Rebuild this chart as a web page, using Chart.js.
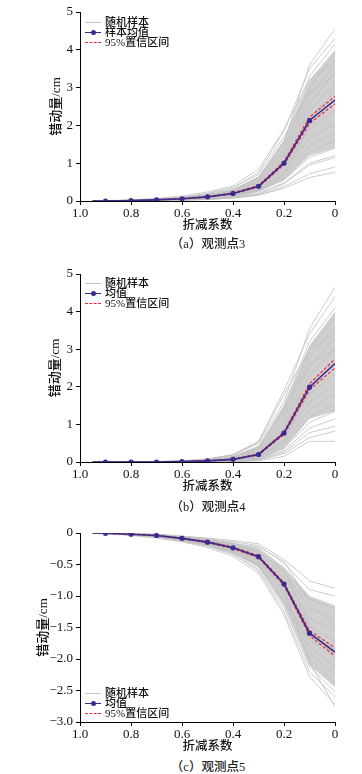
<!DOCTYPE html>
<html>
<head>
<meta charset="utf-8">
<script src="https://cdn.jsdelivr.net/npm/chart.js@4"></script>
<style>
  body { margin: 0; background: #fff; width: 362px; height: 774px; position: relative; overflow: hidden; }
  .box { position: absolute; left: 0; width: 362px; }
  .cap { position: absolute; left: 0; width: 416px; text-align: center; font: 500 12.5px 'Liberation Serif', 'Noto Sans CJK SC', serif; color: #222; line-height: 14px; }
  .lg { position: absolute; left: 84px; font: 500 11px 'Liberation Serif', 'Noto Sans CJK SC', serif; color: #111; }
  .lg div { height: 10px; line-height: 10px; white-space: nowrap; position: relative; padding-left: 21px; }
  .lg i { position: absolute; left: 1px; top: 5px; width: 16px; height: 0; }
  .lg i.g { border-top: 1px solid #c4c4c4; }
  .lg i.m { border-top: 1.5px solid #3b2a8f; }
  .lg i.m:after { content: ''; position: absolute; left: 6px; top: -3.5px; width: 5px; height: 5px; border-radius: 50%; background: #3b2a8f; }
  .lg i.r { border-top: 1px dashed #ee2a33; }
</style>
</head>
<body>
<div class="box" style="top:0"><canvas id="c1" width="362" height="235"></canvas></div>
<div class="box" style="top:250px"><canvas id="c2" width="362" height="246"></canvas></div>
<div class="box" style="top:500px"><canvas id="c3" width="362" height="256"></canvas></div>

<div class="lg" style="top:17px">
  <div><i class="g"></i>随机样本</div>
  <div><i class="m"></i>样本均值</div>
  <div><i class="r"></i>95%置信区间</div>
</div>
<div class="lg" style="top:278px">
  <div><i class="g"></i>随机样本</div>
  <div><i class="m"></i>均值</div>
  <div><i class="r"></i>95%置信区间</div>
</div>
<div class="lg" style="top:688px">
  <div><i class="g"></i>随机样本</div>
  <div><i class="m"></i>均值</div>
  <div><i class="r"></i>95%置信区间</div>
</div>

<div class="cap" style="top:237px">（a）观测点3</div>
<div class="cap" style="top:500px">（b）观测点4</div>
<div class="cap" style="top:760px">（c）观测点5</div>

<script>
// 折减系数
const xs = [0.95, 0.9, 0.8, 0.7, 0.6, 0.5, 0.4, 0.3, 0.2, 0.1, 0];

// 观测点3
const mean3 = [0, 0, 0.01, 0.03, 0.06, 0.11, 0.2, 0.39, 1.0, 2.13, 2.67];
const ciUp3 = [0, 0, 0.012, 0.035, 0.066, 0.12, 0.215, 0.41, 1.04, 2.22, 2.77];
const ciLo3 = [0, 0, 0.008, 0.026, 0.054, 0.1, 0.188, 0.37, 0.96, 2.05, 2.57];
const coreHi3 = [0, 0, 0.02, 0.05, 0.1, 0.18, 0.32, 0.65, 1.6, 3.2, 4.0];
const coreLo3 = [0, 0, 0.005, 0.02, 0.04, 0.07, 0.12, 0.25, 0.55, 1.2, 1.4];
const samples3 = [
  [0, 0, 0.01, 0.04, 0.08, 0.15, 0.28, 0.6, 1.55, 3.6, 4.55],
  [0, 0, 0.02, 0.05, 0.1, 0.2, 0.35, 0.75, 1.85, 3.5, 4.3],
  [0, 0, 0.01, 0.04, 0.09, 0.17, 0.3, 0.62, 1.6, 3.3, 4.15],
  [0, 0, 0.01, 0.04, 0.08, 0.14, 0.26, 0.55, 1.4, 3.0, 3.9],
  [0, 0, 0.01, 0.03, 0.07, 0.13, 0.24, 0.5, 1.3, 2.8, 3.6],
  [0, 0, 0.01, 0.03, 0.06, 0.12, 0.22, 0.45, 1.2, 2.6, 3.4],
  [0, 0, 0.01, 0.03, 0.06, 0.11, 0.21, 0.42, 1.1, 2.4, 3.1],
  [0, 0, 0.01, 0.03, 0.06, 0.11, 0.2, 0.4, 1.0, 2.2, 2.9],
  [0, 0, 0.01, 0.02, 0.05, 0.1, 0.18, 0.36, 0.9, 1.9, 2.4],
  [0, 0, 0.01, 0.02, 0.05, 0.09, 0.16, 0.33, 0.8, 1.65, 2.05],
  [0, 0, 0.01, 0.02, 0.04, 0.08, 0.15, 0.3, 0.72, 1.45, 1.8],
  [0, 0, 0.01, 0.02, 0.04, 0.07, 0.13, 0.27, 0.63, 1.3, 1.6],
  [0, 0, 0, 0.02, 0.03, 0.06, 0.12, 0.24, 0.56, 1.15, 1.4],
  [0, 0, 0, 0.01, 0.03, 0.05, 0.1, 0.2, 0.48, 1.0, 1.2],
  [0, 0, 0, 0.01, 0.03, 0.05, 0.1, 0.18, 0.45, 0.95, 1.15],
  [0, 0, 0, 0.01, 0.02, 0.04, 0.08, 0.16, 0.38, 0.72, 0.9],
  [0, 0, 0, 0.01, 0.02, 0.04, 0.08, 0.15, 0.34, 0.62, 0.76],
  [0, 0.01, 0.03, 0.07, 0.13, 0.24, 0.4, 0.84, 1.9, 3.2, 3.7],
  [0, 0, 0.01, 0.05, 0.1, 0.2, 0.36, 0.7, 1.7, 2.9, 3.3],
  [0, 0, 0.01, 0.02, 0.05, 0.09, 0.15, 0.28, 0.7, 2.0, 2.7]
];

// 观测点4
const mean4 = [0, 0, 0, 0, 0.01, 0.03, 0.07, 0.2, 0.77, 1.99, 2.62];
const ciUp4 = [0, 0, 0, 0, 0.012, 0.034, 0.076, 0.215, 0.8, 2.08, 2.74];
const ciLo4 = [0, 0, 0, 0, 0.008, 0.026, 0.064, 0.185, 0.73, 1.92, 2.5];
const coreHi4 = [0, 0, 0, 0.005, 0.02, 0.05, 0.14, 0.4, 1.5, 3.1, 4.0];
const coreLo4 = [0, 0, 0, 0, 0, 0.01, 0.02, 0.07, 0.35, 1.15, 1.35];
const samples4 = [
  [0, 0, 0, 0.01, 0.03, 0.07, 0.18, 0.5, 1.6, 3.55, 4.65],
  [0, 0, 0, 0.01, 0.03, 0.08, 0.2, 0.55, 1.9, 3.4, 4.4],
  [0, 0, 0, 0.01, 0.02, 0.06, 0.15, 0.42, 1.5, 3.2, 4.1],
  [0, 0, 0, 0.01, 0.02, 0.05, 0.13, 0.36, 1.3, 3.0, 3.85],
  [0, 0, 0, 0, 0.02, 0.05, 0.12, 0.32, 1.15, 2.8, 3.6],
  [0, 0, 0, 0, 0.02, 0.04, 0.1, 0.28, 1.0, 2.55, 3.3],
  [0, 0, 0, 0, 0.01, 0.04, 0.09, 0.25, 0.9, 2.3, 3.0],
  [0, 0, 0, 0, 0.01, 0.03, 0.08, 0.22, 0.8, 2.1, 2.75],
  [0, 0, 0, 0, 0.01, 0.03, 0.06, 0.18, 0.7, 1.8, 2.35],
  [0, 0, 0, 0, 0.01, 0.02, 0.05, 0.15, 0.6, 1.6, 2.05],
  [0, 0, 0, 0, 0.01, 0.02, 0.04, 0.13, 0.5, 1.4, 1.8],
  [0, 0, 0, 0, 0, 0.01, 0.03, 0.1, 0.42, 1.2, 1.55],
  [0, 0, 0, 0, 0, 0.01, 0.03, 0.08, 0.36, 1.05, 1.35],
  [0, 0, 0, 0, 0, 0.01, 0.02, 0.07, 0.3, 0.9, 1.15],
  [0, 0, 0, 0, 0, 0.01, 0.02, 0.06, 0.26, 0.78, 0.95],
  [0, 0, 0, 0, 0, 0, 0.01, 0.05, 0.22, 0.65, 0.82],
  [0, 0, 0, 0, 0, 0, 0.01, 0.03, 0.15, 0.55, 0.55],
  [0, 0, 0, 0.01, 0.03, 0.08, 0.19, 0.52, 1.8, 3.0, 3.4],
  [0, 0, 0, 0, 0.02, 0.05, 0.14, 0.4, 1.4, 2.6, 3.0],
  [0, 0, 0, 0, 0.01, 0.02, 0.05, 0.12, 0.55, 1.9, 2.7]
];

// 观测点5
const mean5 = [0, -0.005, -0.02, -0.04, -0.085, -0.145, -0.235, -0.375, -0.81, -1.59, -1.89];
const ciUp5 = [0, -0.004, -0.017, -0.036, -0.079, -0.137, -0.224, -0.36, -0.79, -1.55, -1.82];
const ciLo5 = [0, -0.006, -0.023, -0.044, -0.091, -0.153, -0.246, -0.39, -0.83, -1.63, -1.95];
const coreHi5 = [0, 0, -0.01, -0.03, -0.06, -0.1, -0.16, -0.25, -0.55, -1.0, -1.15];
const coreLo5 = [0, -0.01, -0.03, -0.06, -0.12, -0.2, -0.32, -0.55, -1.15, -2.1, -2.45];
const samples5 = [
  [0, 0, -0.01, -0.02, -0.05, -0.08, -0.12, -0.17, -0.42, -0.76, -0.88],
  [0, 0, -0.01, -0.02, -0.05, -0.09, -0.14, -0.2, -0.48, -0.9, -1.0],
  [0, 0, -0.01, -0.03, -0.06, -0.1, -0.16, -0.24, -0.55, -1.05, -1.2],
  [0, 0, -0.01, -0.03, -0.06, -0.11, -0.18, -0.28, -0.62, -1.2, -1.38],
  [0, 0, -0.01, -0.03, -0.07, -0.12, -0.2, -0.32, -0.7, -1.35, -1.55],
  [0, 0, -0.02, -0.04, -0.08, -0.13, -0.22, -0.35, -0.76, -1.48, -1.72],
  [0, 0, -0.02, -0.04, -0.08, -0.14, -0.23, -0.37, -0.8, -1.58, -1.85],
  [0, -0.01, -0.02, -0.04, -0.09, -0.15, -0.25, -0.4, -0.86, -1.68, -1.98],
  [0, -0.01, -0.02, -0.05, -0.1, -0.17, -0.27, -0.44, -0.94, -1.8, -2.12],
  [0, -0.01, -0.03, -0.05, -0.11, -0.18, -0.29, -0.48, -1.0, -1.9, -2.25],
  [0, -0.01, -0.03, -0.06, -0.12, -0.19, -0.31, -0.52, -1.08, -2.0, -2.38],
  [0, -0.01, -0.03, -0.07, -0.13, -0.21, -0.34, -0.58, -1.18, -2.12, -2.52],
  [0, -0.01, -0.04, -0.08, -0.14, -0.23, -0.37, -0.64, -1.3, -2.28, -2.72],
  [0, -0.01, -0.03, -0.06, -0.12, -0.2, -0.33, -0.6, -1.25, -2.2, -2.6],
  [0, 0, -0.01, -0.03, -0.06, -0.11, -0.17, -0.22, -0.45, -1.1, -1.5],
  [0, -0.01, -0.03, -0.06, -0.11, -0.18, -0.3, -0.5, -1.1, -1.7, -1.9],
  [0, 0, -0.02, -0.04, -0.07, -0.12, -0.2, -0.3, -0.6, -1.45, -2.0],
  [0, -0.01, -0.02, -0.05, -0.1, -0.16, -0.26, -0.42, -0.9, -2.05, -2.76]
];

const numFont = "'Liberation Serif', 'Noto Sans CJK SC', serif";
const pts = arr => arr.map((v, i) => ({ x: xs[i], y: v }));

function drawChart(id, cfg) {
  const ctx = document.getElementById(id).getContext('2d');
  // lower "order" is drawn on top
  const datasets = [];
  datasets.push({
    data: pts(cfg.mean), borderColor: '#3b2a8f', borderWidth: 1.6, fill: false, order: 0,
    pointRadius: c => (c.dataIndex === 0 || c.dataIndex === xs.length - 1) ? 0 : 2.6,
    pointBackgroundColor: '#3b2a8f', pointBorderWidth: 0
  });
  datasets.push({ data: pts(cfg.ciUp), borderColor: '#ee2a33', borderWidth: 1.2, borderDash: [3, 2], pointRadius: 0, fill: false, order: 1 });
  datasets.push({ data: pts(cfg.ciLo), borderColor: '#ee2a33', borderWidth: 1.2, borderDash: [3, 2], pointRadius: 0, fill: false, order: 1 });
  cfg.samples.forEach(s => {
    datasets.push({ data: pts(s), borderColor: '#c0c0c0', borderWidth: 0.8, pointRadius: 0, fill: false, order: 2 });
  });
  datasets.push({ data: pts(cfg.coreLo), borderWidth: 0, pointRadius: 0, fill: false, order: 3 });
  datasets.push({ data: pts(cfg.coreHi), borderWidth: 0, pointRadius: 0, fill: '-1', backgroundColor: '#d0d0d0', order: 3 });

  new Chart(ctx, {
    type: 'line',
    data: { datasets },
    options: {
      responsive: false,
      animation: false,
      devicePixelRatio: 1,
      elements: { line: { tension: 0 } },
      layout: { padding: { top: cfg.top, right: 27, left: 0, bottom: 0 } },
      plugins: { legend: { display: false }, tooltip: { enabled: false } },
      scales: {
        x: {
          type: 'linear', min: 0, max: 1, reverse: true,
          afterFit: s => { s.height = 34; },
          ticks: {
            stepSize: 0.2, padding: 1, color: '#111',
            font: { family: numFont, size: 13 },
            callback: v => Math.abs(v) < 1e-9 ? '0' : v.toFixed(1)
          },
          grid: { drawOnChartArea: false, drawTicks: true, tickLength: 4, color: '#000' },
          border: { color: '#000', width: 1 },
          title: { display: true, text: '折减系数', color: '#111', font: { family: numFont, size: 12.5, weight: '500' }, padding: { top: 0, bottom: 2 } }
        },
        y: {
          min: cfg.yMin, max: cfg.yMax,
          afterFit: s => { s.width = 80; },
          ticks: {
            stepSize: cfg.yStep, padding: 3, color: '#111',
            font: { family: numFont, size: 13 },
            callback: cfg.yFmt
          },
          grid: { drawOnChartArea: false, drawTicks: true, tickLength: 4, color: '#000' },
          border: { color: '#000', width: 1 },
          title: { display: true, text: '错动量/cm', color: '#111', font: { family: numFont, size: 13, weight: '500' }, padding: { top: cfg.titlePad, bottom: 0 } }
        }
      }
    }
  });
}

const intFmt = v => String(Math.round(v));
const negFmt = v => Math.abs(v) < 1e-9 ? '0' : '\u2212' + Math.abs(v).toFixed(1);

drawChart('c1', { top: 12, titlePad: 49, yMin: 0, yMax: 5, yStep: 1, yFmt: intFmt,
  mean: mean3, ciUp: ciUp3, ciLo: ciLo3, coreHi: coreHi3, coreLo: coreLo3, samples: samples3 });
drawChart('c2', { top: 24, titlePad: 48, yMin: 0, yMax: 5, yStep: 1, yFmt: intFmt,
  mean: mean4, ciUp: ciUp4, ciLo: ciLo4, coreHi: coreHi4, coreLo: coreLo4, samples: samples4 });
drawChart('c3', { top: 33, titlePad: 36, yMin: -3, yMax: 0, yStep: 0.5, yFmt: negFmt,
  mean: mean5, ciUp: ciUp5, ciLo: ciLo5, coreHi: coreHi5, coreLo: coreLo5, samples: samples5 });
</script>
</body>
</html>
